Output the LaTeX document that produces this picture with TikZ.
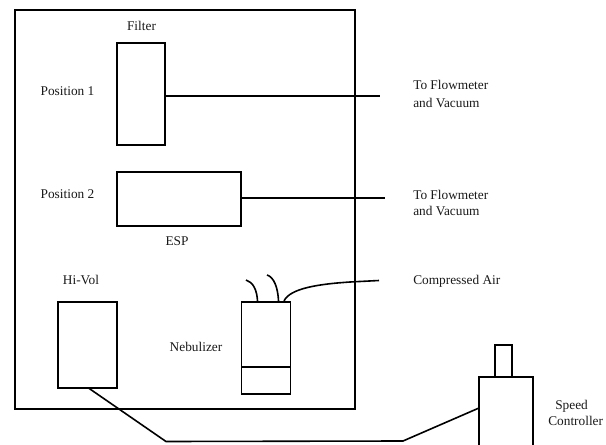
\documentclass[tikz,border=0pt]{standalone}
\usepackage{fontspec}
\setmainfont{Liberation Serif}
\tikzset{
  box/.style={draw=black,line width=1.3pt,fill=none,rectangle,inner sep=0pt,outer sep=0pt,anchor=north west},
  conn/.style={draw=black,line width=1.2pt},
  lbl/.style={font=\fontsize{10pt}{12pt}\selectfont,inner sep=0pt,text=black!90},
  lbll/.style={lbl,align=left,anchor=west},
}
\begin{document}
\begin{tikzpicture}[x=0.75pt,y=-0.75pt]
\useasboundingbox (0,0) rectangle (606,445);
\node[box,minimum width=255pt,minimum height=299.25pt,line width=1.2pt] (outer) at (15,10) {};
\node[box,minimum width=36pt,minimum height=76.5pt] (filter) at (117,43) {};
\node[box,minimum width=93pt,minimum height=40.5pt] (esp) at (117,172) {};
\node[box,minimum width=44.25pt,minimum height=64.5pt] (hivol) at (58,302) {};
\node[box,minimum width=36.75pt,minimum height=69pt] (neb) at (241.5,302) {};
\node[box,minimum width=36.75pt,minimum height=20.25pt] (nebb) at (241.5,367) {};
\clip (0,0) rectangle (606,445);
\node[box,minimum width=40.5pt,minimum height=60pt] (speed) at (479,377) {};
\node[box,minimum width=12.75pt,minimum height=24pt] (knob) at (495,345) {};
\coordinate (f1) at (380,96);
\coordinate (e1) at (385,198);
\coordinate (b1) at (166,441.5);
\coordinate (b2) at (403,441);
\coordinate (a1) at (379,280.5);
\coordinate (t1) at (246,280);
\coordinate (t2) at (267,275);
\draw[conn] (filter.east |- f1) -- (f1);
\draw[conn] (esp.east |- e1) -- (e1);
\draw[conn] (hivol.south) ++(1,0) -- (b1) -- (b2) -- (speed.west |- 0,408);
\draw[conn] (257.5,301) .. controls (257,290) and (253,282) .. (t1);
\draw[conn] (278.5,301) .. controls (278,288) and (274,277) .. (t2);
\draw[conn] (284,301) .. controls (290,288) and (320,284) .. (350,282) -- (a1);
\node[lbl] (tfilter) at (141.5,26) {Filter};
\node[lbl] (tp1) at (67.5,91) {Position 1};
\node[lbl] (tp2) at (67.5,194) {Position 2};
\node[lbl] (tesp) at (177,241) {ESP};
\node[lbl] (thi) at (81,280) {Hi-Vol};
\node[lbl] (tneb) at (196,347) {Nebulizer};
\node[lbll] (tto1) at (413,94) {To Flowmeter\\[1pt]and Vacuum};
\node[lbll] (tto2) at (413,203) {To Flowmeter\\and Vacuum};
\node[lbll] (tair) at (413,281) {Compressed Air};
\node[lbll] (tspeed) at (548,413) {\hspace{5.25pt}Speed\\Controller};
\end{tikzpicture}
\end{document}
